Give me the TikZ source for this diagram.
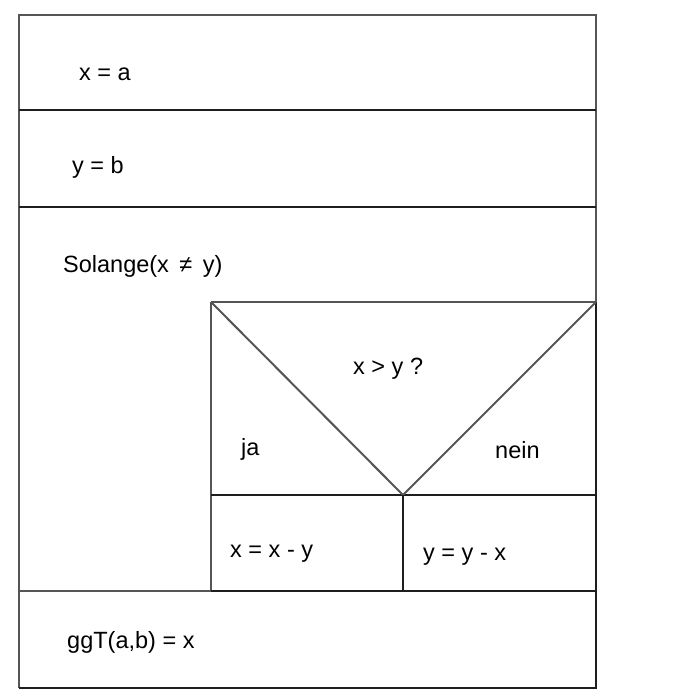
\documentclass[tikz,border=0pt]{standalone}
\usepackage{fontspec}
\setmainfont{Liberation Sans}
\definecolor{lgray}{HTML}{555555}
\definecolor{lblack}{HTML}{1E1E1E}
\begin{document}
\begin{tikzpicture}[x=1pt,y=-1pt,
  gl/.style={draw=lgray,line width=2pt},
  bl/.style={draw=lblack,line width=2pt},
  txt/.style={anchor=base west,inner sep=0pt,font=\fontsize{23.5}{26}\selectfont}]
\useasboundingbox[fill=white] (0,0) rectangle (693,693);
% corners
\coordinate (TL) at (19,15);
\coordinate (TR) at (596,15);
\coordinate (BL) at (19,688);
\coordinate (BR) at (596,688);
\coordinate (A1) at (19,110); \coordinate (A2) at (596,110);
\coordinate (B1) at (19,207); \coordinate (B2) at (596,207);
\coordinate (C1) at (211,302); \coordinate (C2) at (596,302);
\coordinate (D1) at (211,495); \coordinate (D2) at (596,495);
\coordinate (M) at (403,495); \coordinate (M2) at (403,591);
\coordinate (E0) at (19,591); \coordinate (E1) at (211,591); \coordinate (E2) at (596,591);
% outer
\draw[gl] (BL) -- (TL) -- (TR) -- (C2);
\draw[bl] (C2) -- (BR) -- (BL);
\draw[bl] (A1) -- (A2);
\draw[bl] (B1) -- (B2);
\draw[gl] (C1) -- (C2);
\draw[gl] (C1) -- (E1);
\draw[bl] (D1) -- (D2);
\draw[gl] (C1) -- (M) -- (C2);
\draw[bl] (M) -- (M2);
\draw[gl] (E0) -- (E1);
\draw[bl] (E1) -- (E2);
% texts
\node[txt] (t1) at (79,81) {x = a};
\node[txt] (t2) at (72,173) {y = b};
\node[txt] (t3) at (63,272) {Solange(x \,≠\, y)};
\node[txt] (t4) at (353,374) {x > y ?};
\node[txt] (t5) at (241,455) {ja};
\node[txt] (t6) at (495,458) {nein};
\node[txt] (t7) at (230,557) {x = x - y};
\node[txt] (t8) at (423,560) {y = y - x};
\node[txt] (t9) at (67,648) {ggT(a,b) = x};
\end{tikzpicture}
\end{document}
